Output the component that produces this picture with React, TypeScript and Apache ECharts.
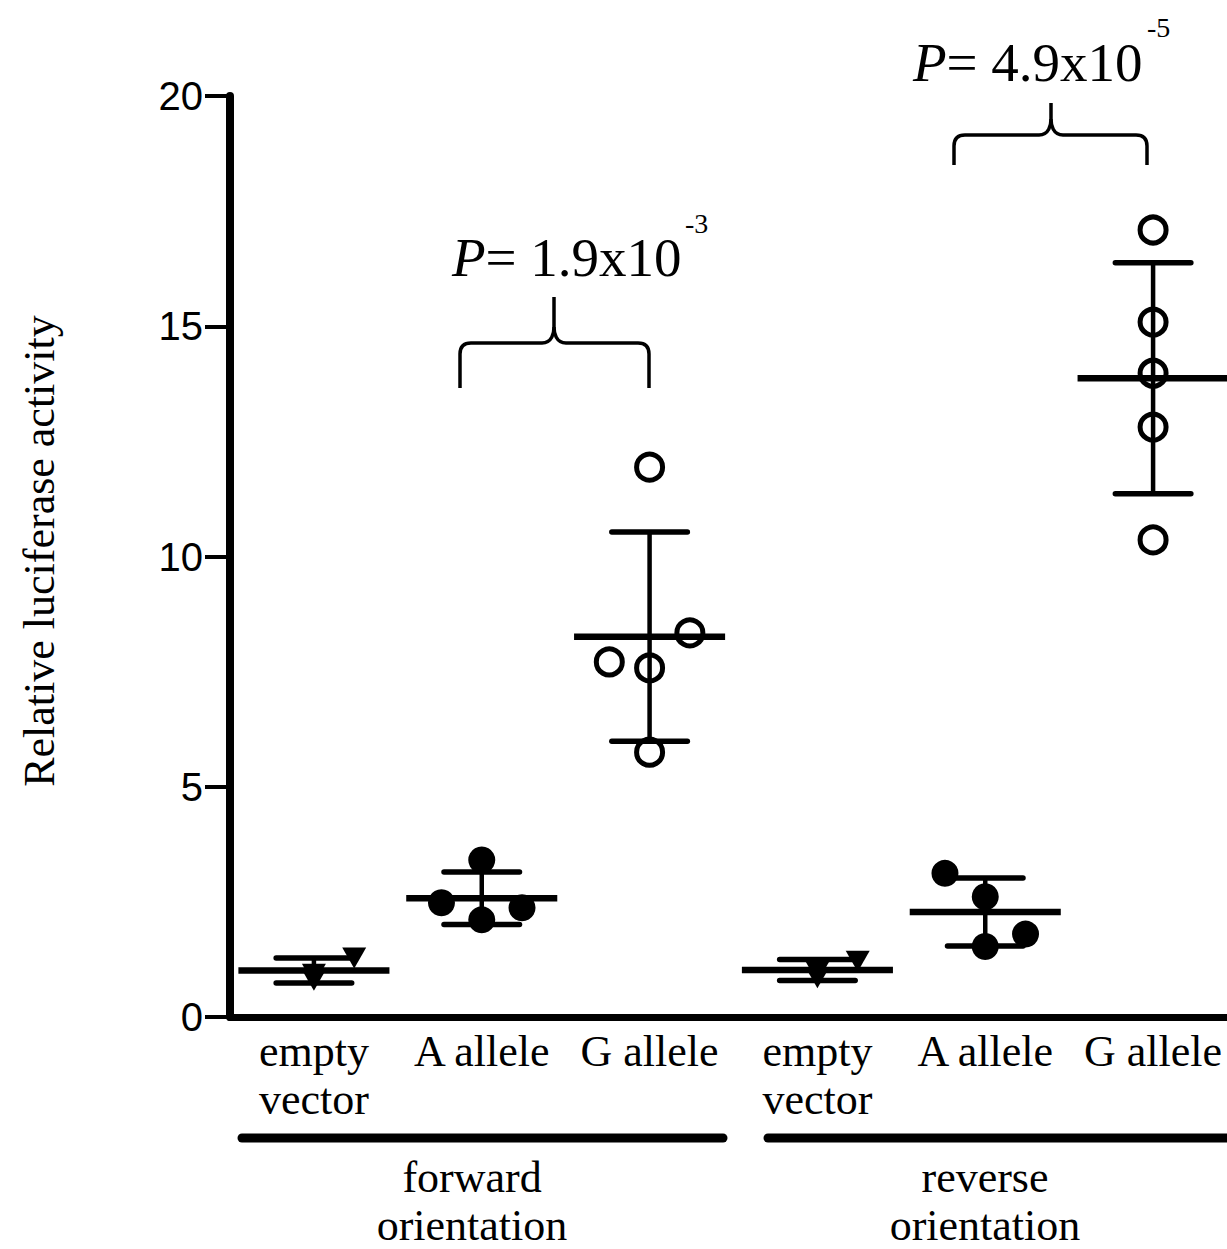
import React, { useEffect, useRef } from "react";
import * as echarts from "echarts";

// ---- data ----
const categories = ["empty\nvector", "A allele", "G allele", "empty\nvector", "A allele", "G allele"];
const groupNames = ["forward\norientation", "reverse\norientation"];
const yTicks = { min: 0, max: 20, interval: 5 };
const meanValues = [1.01, 2.58, 8.26, 1.02, 2.28, 13.87];
const sdValues = [0.27, 0.57, 2.27, 0.23, 0.74, 2.51];
// [category index, horizontal jitter in category units, value]
const emptyVectorPoints = [
  [0, 0, 0.8], [0, 0, 0.93], [0, 0.24, 1.28],
  [3, 0, 0.85], [3, 0, 0.98], [3, 0.24, 1.21],
];
const aAllelePoints = [
  [1, 0, 3.41], [1, -0.24, 2.48], [1, 0, 2.11], [1, 0.24, 2.37],
  [4, -0.24, 3.12], [4, 0, 2.61], [4, 0.24, 1.8], [4, 0, 1.53],
];
const gAllelePoints = [
  [2, 0, 11.94], [2, 0.24, 8.34], [2, -0.24, 7.71], [2, 0, 7.58], [2, 0, 5.75],
  [5, 0, 17.09], [5, 0, 15.09], [5, 0, 13.98], [5, 0, 12.81], [5, 0, 10.36],
];
const pValues = [
  { main: "= 1.9x10", exp: "-3" },
  { main: "= 4.9x10", exp: "-5" },
];

const SERIF = "'Liberation Serif', 'Times New Roman', serif";
const SANS = "'Liberation Sans', Arial, sans-serif";

const toXY = (p: number[]) => [p[0] + p[1], p[2]];

function brace(L: number, R: number, M: number, H: number, B: number, T: number) {
  const st = { stroke: "#000", lineWidth: 3.5, fill: "none" };
  const r = 11;
  return [
    { type: "line", shape: { x1: L, y1: B, x2: L, y2: H + r }, style: st },
    { type: "bezierCurve", shape: { x1: L, y1: H + r, cpx1: L, cpy1: H, x2: L + r, y2: H }, style: st },
    { type: "line", shape: { x1: L + r, y1: H, x2: M - 12, y2: H }, style: st },
    { type: "bezierCurve", shape: { x1: M - 12, y1: H, cpx1: M - 2, cpy1: H, cpx2: M, cpy2: H - 10, x2: M, y2: H - 16 }, style: st },
    { type: "line", shape: { x1: M, y1: H - 16, x2: M, y2: T }, style: st },
    { type: "bezierCurve", shape: { x1: M + 12, y1: H, cpx1: M + 2, cpy1: H, cpx2: M, cpy2: H - 10, x2: M, y2: H - 16 }, style: st },
    { type: "line", shape: { x1: M + 12, y1: H, x2: R - r, y2: H }, style: st },
    { type: "bezierCurve", shape: { x1: R - r, y1: H, cpx1: R, cpy1: H, x2: R, y2: H + r }, style: st },
    { type: "line", shape: { x1: R, y1: H + r, x2: R, y2: B }, style: st },
  ];
}

export default function App() {
  const ref = useRef<HTMLDivElement>(null);
  useEffect(() => {
    if (!ref.current) return;
    const chart = echarts.init(ref.current, null, { renderer: "svg" });

    const graphic: any[] = [
      {
        type: "text",
        x: 39,
        y: 551,
        rotation: Math.PI / 2,
        style: { text: "Relative luciferase activity", fontFamily: SERIF, fontSize: 44, fill: "#000", align: "center", verticalAlign: "middle" },
      },
      ...brace(460, 649, 554, 343, 388, 297),
      ...brace(954, 1147, 1051, 135, 165, 103),
      {
        type: "text", x: 452, y: 257,
        style: { text: "{i|P}{n|" + pValues[0].main + "}", fill: "#000", align: "left", verticalAlign: "middle",
          rich: { i: { fontFamily: SERIF, fontSize: 55, fontStyle: "italic", fill: "#000" }, n: { fontFamily: SERIF, fontSize: 55, fill: "#000" } } },
      },
      { type: "text", x: 685, y: 223, style: { text: pValues[0].exp, fontFamily: SERIF, fontSize: 28, fill: "#000", align: "left", verticalAlign: "middle" } },
      {
        type: "text", x: 913, y: 62,
        style: { text: "{i|P}{n|" + pValues[1].main + "}", fill: "#000", align: "left", verticalAlign: "middle",
          rich: { i: { fontFamily: SERIF, fontSize: 55, fontStyle: "italic", fill: "#000" }, n: { fontFamily: SERIF, fontSize: 55, fill: "#000" } } },
      },
      { type: "text", x: 1147, y: 27, style: { text: pValues[1].exp, fontFamily: SERIF, fontSize: 28, fill: "#000", align: "left", verticalAlign: "middle" } },
      { type: "line", shape: { x1: 242, y1: 1138, x2: 723, y2: 1138 }, style: { stroke: "#000", lineWidth: 9, lineCap: "round" } },
      { type: "line", shape: { x1: 768, y1: 1138, x2: 1250, y2: 1138 }, style: { stroke: "#000", lineWidth: 9, lineCap: "round" } },
      { type: "text", x: 472, y: 1201, style: { text: groupNames[0], fontFamily: SERIF, fontSize: 44, lineHeight: 48, fill: "#000", align: "center", verticalAlign: "middle" } },
      { type: "text", x: 985, y: 1201, style: { text: groupNames[1], fontFamily: SERIF, fontSize: 44, lineHeight: 48, fill: "#000", align: "center", verticalAlign: "middle" } },
    ];

    chart.setOption({
      animation: false,
      backgroundColor: "#fff",
      grid: { left: 230, top: 96, right: 5, bottom: 232, containLabel: false },
      xAxis: [
        {
          type: "category",
          data: categories,
          boundaryGap: true,
          axisLine: { show: true, onZero: false, lineStyle: { color: "#000", width: 7 } },
          axisTick: { show: false },
          axisLabel: { interval: 0, color: "#000", fontFamily: SERIF, fontSize: 44, lineHeight: 48, margin: 10 },
          splitLine: { show: false },
        },
        { type: "value", min: -0.5, max: 5.5, show: false, splitLine: { show: false } },
      ],
      yAxis: {
        type: "value",
        min: yTicks.min,
        max: yTicks.max,
        interval: yTicks.interval,
        axisLine: { show: true, onZero: false, lineStyle: { color: "#000", width: 8 } },
        axisTick: { show: true, length: 25, lineStyle: { color: "#000", width: 4 } },
        axisLabel: { color: "#000", fontFamily: SANS, fontSize: 40, margin: 27 },
        splitLine: { show: false },
      },
      graphic,
      series: [
        {
          type: "custom",
          xAxisIndex: 1,
          yAxisIndex: 0,
          z: 2,
          data: meanValues.map((m, i) => [i, m, sdValues[i]]),
          renderItem: (params: any, api: any) => {
            const x = api.value(0);
            const m = api.value(1);
            const s = api.value(2);
            const c = api.coord([x, m]);
            const t = api.coord([x, m + s]);
            const b = api.coord([x, m - s]);
            const unit = api.size([1, 0])[0];
            const mh = unit * 0.45;
            const ch = unit * 0.225;
            return {
              type: "group",
              children: [
                { type: "line", shape: { x1: c[0], y1: t[1], x2: c[0], y2: b[1] }, style: { stroke: "#000", lineWidth: 4.5 } },
                { type: "line", shape: { x1: c[0] - ch, y1: t[1], x2: c[0] + ch, y2: t[1] }, style: { stroke: "#000", lineWidth: 5.5, lineCap: "round" } },
                { type: "line", shape: { x1: c[0] - ch, y1: b[1], x2: c[0] + ch, y2: b[1] }, style: { stroke: "#000", lineWidth: 5.5, lineCap: "round" } },
                { type: "line", shape: { x1: c[0] - mh, y1: c[1], x2: c[0] + mh, y2: c[1] }, style: { stroke: "#000", lineWidth: 6.5 } },
              ],
            };
          },
        },
        {
          type: "scatter",
          xAxisIndex: 1,
          z: 3,
          symbol: "path://M0,0L20,0L10,18Z",
          symbolSize: [24, 21],
          itemStyle: { color: "#000", opacity: 1 },
          data: emptyVectorPoints.map(toXY),
        },
        {
          type: "scatter",
          xAxisIndex: 1,
          z: 3,
          symbol: "circle",
          symbolSize: 27,
          itemStyle: { color: "#000", opacity: 1 },
          data: aAllelePoints.map(toXY),
        },
        {
          type: "scatter",
          xAxisIndex: 1,
          z: 3,
          symbol: "circle",
          symbolSize: 26,
          itemStyle: { color: "rgba(0,0,0,0)", borderColor: "#000", borderWidth: 5, opacity: 1 },
          data: gAllelePoints.map(toXY),
        },
      ],
    });
    return () => chart.dispose();
  }, []);
  return (
    <div style={{ position: "absolute", left: 0, top: 0, width: 1227, height: 1249, overflow: "hidden", background: "#fff" }}>
      <div ref={ref} style={{ width: 1242, height: 1249, background: "#fff" }} />
    </div>
  );
}
